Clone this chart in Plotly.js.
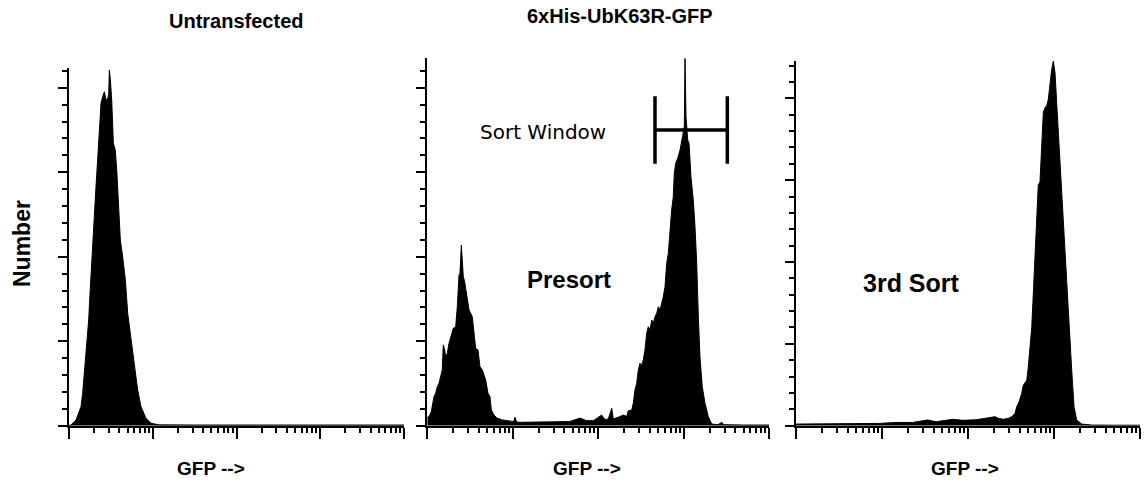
<!DOCTYPE html>
<html>
<head>
<meta charset="utf-8">
<script src="https://cdn.plot.ly/plotly-3.0.1.min.js"></script>
<style>html,body{margin:0;padding:0;background:#fff}#chart{width:1145px;height:490px}</style>
</head>
<body>
<div id="chart"></div>
<script>
// GFP intensity as log10 (decades 0..4), counts (major tick = 50)
const untransLog = [0.0,0.024,0.084,0.143,0.163,0.183,0.211,0.235,0.251,0.275,0.303,0.322,0.342,0.362,0.382,0.402,0.422,0.442,0.462,0.474,0.482,0.494,0.510,0.530,0.553,0.570,0.590,0.613,0.641,0.673,0.701,0.740,0.780,0.820,0.860,0.919,0.979,1.078,1.5,2.0,2.5,3.0,3.5,4.0];
const untransCount = [0,0.5,3.4,11.2,19.2,31,46.7,62.5,78.3,102,123.7,141.4,157.2,176.9,190.8,194.7,197.6,192.7,193.7,195.7,210.5,204.6,192.7,167,163,151.3,131.6,109.9,100,86.2,66.5,50.7,34.9,21.1,11.2,4.4,1.4,0.5,0.4,0.4,0.4,0.4,0.4,0.4];

const presortLog = [0.0,0.020,0.047,0.078,0.098,0.117,0.137,0.157,0.175,0.187,0.203,0.215,0.234,0.254,0.274,0.304,0.332,0.351,0.371,0.382,0.398,0.409,0.421,0.437,0.461,0.488,0.526,0.546,0.566,0.593,0.616,0.643,0.683,0.710,0.733,0.749,0.780,0.819,0.877,0.936,0.994,1.010,1.026,1.045,1.084,1.28,1.474,1.669,1.786,1.864,1.942,2.040,2.078,2.117,2.157,2.175,2.195,2.234,2.292,2.332,2.351,2.391,2.409,2.429,2.449,2.468,2.488,2.499,2.526,2.546,2.566,2.585,2.605,2.625,2.643,2.663,2.683,2.702,2.722,2.742,2.760,2.780,2.800,2.819,2.839,2.858,2.877,2.889,2.905,2.929,2.956,2.975,2.994,3.006,3.014,3.026,3.046,3.061,3.084,3.111,3.131,3.151,3.170,3.189,3.216,3.248,3.287,3.326,3.400,3.443,3.470,3.520,3.7,4.0];
const presortCount = [5,5.3,8.3,17.2,19.2,23.1,25.1,29,33,47.8,44.8,40.8,42.8,48.8,52.7,57.6,58.6,70.4,89.2,90.2,106.9,96.1,88.2,85.2,76.3,68.5,64.5,56.6,45.8,44.8,34.9,33,27,19.2,17.2,9.3,6.3,4.4,3.4,3,2.4,2.4,5,2.2,2,2,2.3,2.5,4.5,3,3,6.3,3.5,4,10.3,4,4.5,5,6.3,5.5,8.8,9.3,13.2,21.1,25.1,33,36.9,34.9,38.9,44.8,54.7,58.6,56.6,62.5,60.6,64.5,66.5,70.4,68.5,72.4,76.3,82.2,96.1,102,115.8,127.6,135.5,149.3,155.3,158.2,163.1,169,173,176.9,217.4,182.8,169,167.1,147.3,133.5,117.8,96.1,64.5,40.8,23.1,13.2,5.3,1,0.6,2,0.6,0.5,0.4,0.4];

const sort3Log = [0.0,0.387,0.775,0.969,1.162,1.356,1.530,1.627,1.821,1.937,2.093,2.248,2.314,2.352,2.410,2.469,2.508,2.547,2.566,2.593,2.624,2.643,2.683,2.701,2.721,2.741,2.759,2.779,2.799,2.817,2.837,2.857,2.876,2.895,2.915,2.934,2.953,2.973,2.992,3.012,3.031,3.050,3.090,3.128,3.166,3.206,3.233,3.264,3.322,3.438,3.7,4.0];
const sort3Count = [1,1,1.4,1.4,2,2,3.5,2.4,3.9,3.3,3.6,5.1,5.5,4.5,3.9,4.5,5.5,7.5,11.5,14.5,19.6,24.7,27.7,35.8,49.9,60,80.2,106.5,126.7,146.9,148.9,167.1,191.3,194.4,195.4,199.4,209.5,217.6,222.7,215.6,197.4,179.2,146.9,106.5,66.1,33.8,11.5,3.5,1,0.4,0.3,0.3];

// Sort window gate (log10 GFP) and bar heights
const gateLog = [2.663, 3.509];
const gateBarY = 175;
const gateCapY = [155, 195];

const panelTitles = ["Untransfected", "6xHis-UbK63R-GFP"];
const xTitle = "GFP -->";
const yTitle = "Number";
const labels = ["Presort", "3rd Sort", "Sort Window"];

const toLin = a => a.map(v => Math.pow(10, v));
const black = '#000';

function hist(xs, ys, xa, ya) {
  return {x: toLin(xs), y: ys, xaxis: xa, yaxis: ya, type: 'scatter', mode: 'lines',
          fill: 'tozeroy', fillcolor: black, line: {color: black, width: 1}, hoverinfo: 'skip', showlegend: false};
}

const gx = toLin(gateLog);
const traces = [
  hist(untransLog, untransCount, 'x', 'y'),
  hist(presortLog, presortCount, 'x2', 'y2'),
  hist(sort3Log, sort3Count, 'x3', 'y3'),
  {x: [gx[0], gx[1], null, gx[0], gx[0], null, gx[1], gx[1]],
   y: [gateBarY, gateBarY, null, gateCapY[0], gateCapY[1], null, gateCapY[0], gateCapY[1]],
   xaxis: 'x2', yaxis: 'y2', type: 'scatter', mode: 'lines', connectgaps: false,
   line: {color: black, width: 3.5}, hoverinfo: 'skip', showlegend: false}
];

const minorVals = [];
for (let e = 0; e < 4; e++) for (let k = 2; k <= 9; k++) minorVals.push(k * Math.pow(10, e));

function xax(dom) {
  return {domain: dom, type: 'log', range: [0, 4], showgrid: false, zeroline: false,
    showline: true, linecolor: black, linewidth: 2, mirror: false,
    tickmode: 'array', tickvals: [1, 10, 100, 1000, 10000], ticks: 'outside', ticklen: 11, tickwidth: 2, tickcolor: black,
    showticklabels: false,
    minor: {tickmode: 'array', tickvals: minorVals, ticks: 'outside', ticklen: 5, tickwidth: 2, tickcolor: black, showgrid: false}};
}
function yax(dom, top) {
  return {domain: dom, range: [0, top], showgrid: false, zeroline: false,
    showline: true, linecolor: black, linewidth: 2,
    tickmode: 'array', tickvals: [0, 50, 100, 150, 200], ticks: 'outside', ticklen: 9, tickwidth: 2, tickcolor: black,
    showticklabels: false,
    minor: {dtick: 10, tick0: 0, ticks: 'outside', ticklen: 5, tickwidth: 2, tickcolor: black, showgrid: false}};
}

const W = 1145, H = 490;
const px = v => v / W, py = v => (H - v) / H;
const base = py(425.7);

function ann(text, x, y, size, extra) {
  return Object.assign({text: text, x: px(x), y: py(y), xref: 'paper', yref: 'paper', showarrow: false,
    xanchor: 'center', yanchor: 'middle', font: {size: size}}, extra || {});
}

const layout = {
  width: W, height: H, margin: {l: 0, r: 0, t: 0, b: 0},
  paper_bgcolor: '#fff', plot_bgcolor: 'rgba(0,0,0,0)', showlegend: false,
  font: {family: 'Liberation Sans, Arial, sans-serif', color: black},
  xaxis: Object.assign(xax([px(69), px(404)]), {anchor: 'y'}),
  yaxis: Object.assign(yax([base, py(68.3)], 211.5), {anchor: 'x'}),
  xaxis2: Object.assign(xax([px(427.3), px(769.3)]), {anchor: 'y2'}),
  yaxis2: Object.assign(yax([base, py(58.3)], 217.4), {anchor: 'x2'}),
  xaxis3: Object.assign(xax([px(796), px(1140)]), {anchor: 'y3'}),
  yaxis3: Object.assign(yax([base, py(60.7)], 223), {anchor: 'x3'}),
  annotations: [
    ann('<b>' + panelTitles[0] + '</b>', 236, 21, 20),
    ann('<b>' + panelTitles[1] + '</b>', 620, 16, 20),
    ann('<b>' + yTitle + '</b>', 22, 244, 23, {textangle: -90}),
    ann('<b>' + xTitle + '</b>', 211, 468, 19),
    ann('<b>' + xTitle + '</b>', 587, 468, 19),
    ann('<b>' + xTitle + '</b>', 965, 468, 19),
    ann('<b>' + labels[0] + '</b>', 569, 279, 24),
    ann('<b>' + labels[1] + '</b>', 911, 283, 25),
    ann(labels[2], 543, 132, 20, {font: {size: 20, family: 'DejaVu Sans, sans-serif'}})
  ]
};

Plotly.newPlot('chart', traces, layout, {staticPlot: true, displayModeBar: false});
</script>
</body>
</html>
